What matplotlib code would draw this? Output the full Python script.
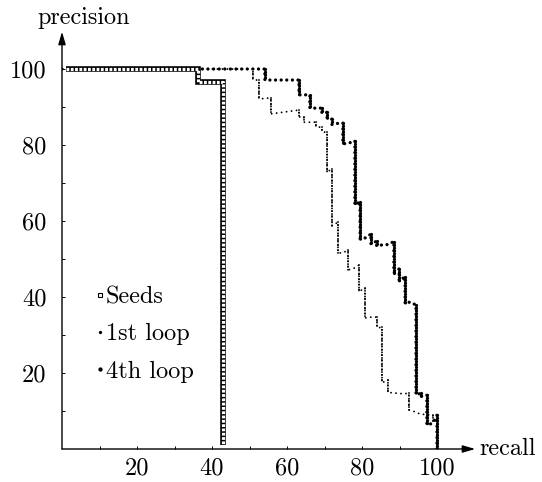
import matplotlib
matplotlib.use('Agg')
import matplotlib.pyplot as plt
from matplotlib.lines import Line2D
from matplotlib.collections import LineCollection

plt.rcParams['font.family'] = ['cmr10', 'DejaVu Serif']
plt.rcParams['axes.formatter.use_mathtext'] = True
plt.rcParams['lines.scale_dashes'] = False

# ---------------- data (recall %, precision %) ----------------
seeds_recall = [1.0, 36.2, 36.2, 42.8, 42.8]
seeds_precision = [100, 100, 96.7, 96.7, 1.0]

loop1_recall = [0, 50.9, 50.9, 52.5, 52.5, 55.7, 55.7, 63.2, 63.2, 64.5, 64.5,
                67.7, 67.7, 69.3, 69.3, 70.7, 70.7, 72.0, 72.0, 73.6, 73.6, 74.9,
                76.3, 76.3, 77.9, 79.2, 79.2, 80.8, 80.8, 82.4, 84.0, 84.0, 85.3,
                85.3, 86.9, 86.9, 88.3, 89.6, 91.0, 92.5, 92.5, 94.1, 95.5, 98.9,
                98.9, 100, 100]
loop1_precision = [100, 100, 97.1, 97.1, 92.1, 92.4, 88.2, 89.2, 87.4, 87.4, 86.0,
                   86.0, 84.7, 84.7, 83.4, 83.4, 72.9, 73.7, 58.7, 59.7, 51.6, 51.6,
                   52.4, 47.1, 47.6, 48.4, 41.4, 42.4, 34.5, 34.7, 34.7, 31.8, 32.1,
                   17.4, 18.2, 15.0, 14.7, 14.7, 14.5, 14.7, 10.3, 9.8, 9.2, 8.9,
                   7.1, 7.5, 0]

loop4_recall = [0, 54.1, 54.1, 63.2, 63.2, 66.1, 66.1, 69.3, 69.3, 70.7, 70.7,
                72.0, 72.0, 73.6, 74.9, 74.9, 76.5, 78.1, 78.1, 79.5, 79.5, 81.1,
                82.4, 82.4, 83.9, 83.9, 85.3, 86.9, 88.5, 88.5, 89.9, 89.9, 91.5,
                91.5, 92.8, 94.4, 94.4, 95.7, 95.7, 97.3, 97.3, 98.9, 100, 100]
loop4_precision = [100, 100, 97.1, 97.1, 93.2, 93.2, 89.7, 89.7, 88.4, 88.6, 87.0,
                   86.8, 85.4, 85.7, 85.8, 80.3, 80.5, 81.1, 64.2, 65.1, 55.3, 55.6,
                   56.6, 53.9, 54.7, 53.4, 53.7, 53.8, 54.6, 46.4, 47.4, 44.3, 45.3,
                   38.2, 38.7, 37.9, 14.2, 14.7, 13.9, 14.2, 6.3, 6.8, 8.9, 0]

series_labels = ['Seeds', '1st loop', '4th loop']
tick_values = [20, 40, 60, 80, 100]
tick_labels = ['20', '40', '60', '80', '100']
minor_tick_values = [10, 30, 50, 70, 90]

# ---------------- figure ----------------
W, H = 542, 482
PX = 0.72  # points per pixel at dpi 100
FS = 17.5
fig = plt.figure(figsize=(W / 100, H / 100), dpi=100)
ax = fig.add_axes([62 / W, (H - 449) / H, 412 / W, 416 / H])
ax.set_xlim(0, 412 / 3.75)
ax.set_ylim(0, 416 / 3.8)
for s in ax.spines.values():
    s.set_visible(False)
ax.set_facecolor('none')


def vertical_segments(xs, ys):
    segs = []
    for i in range(len(xs) - 1):
        if xs[i] == xs[i + 1]:
            segs.append([(xs[i], ys[i]), (xs[i + 1], ys[i + 1])])
    return segs


# 1st loop: small dots
ax.plot(loop1_recall, loop1_precision, color='k', lw=1.9 * PX,
        dash_capstyle='round', linestyle=(0, (0.01, 5.0 * PX)), zorder=3)
lc1 = LineCollection(vertical_segments(loop1_recall, loop1_precision),
                     colors='k', linewidths=1.9 * PX,
                     linestyles=[(0, (0.01, 2.8 * PX))], capstyle='round', zorder=3)
ax.add_collection(lc1)

# 4th loop: bigger dots
ax.plot(loop4_recall, loop4_precision, color='k', lw=3.3 * PX,
        dash_capstyle='round', linestyle=(0, (0.01, 5.6 * PX)), zorder=4)
lc4 = LineCollection(vertical_segments(loop4_recall, loop4_precision),
                     colors='k', linewidths=3.3 * PX,
                     linestyles=[(0, (0.01, 2.8 * PX))], capstyle='round', zorder=4)
ax.add_collection(lc4)

# Seeds: chain of open squares (black band with white dashes inside)
ax.plot(seeds_recall, seeds_precision, color='k', lw=5.6 * PX,
        solid_capstyle='butt', solid_joinstyle='miter', zorder=5)
ax.plot(seeds_recall, seeds_precision, color='white', lw=3.2 * PX,
        linestyle=(0, (2.8 * PX, 1.5 * PX)), dash_capstyle='butt', zorder=6)

# axes with arrows
arrow = dict(arrowstyle='-|>,head_length=0.75,head_width=0.22', color='k',
             lw=1.0, shrinkA=0, shrinkB=0, mutation_scale=10)
ax.annotate('', xy=(1.003, 0), xytext=(0, 0), xycoords='axes fraction',
            arrowprops=arrow, zorder=7)
ax.annotate('', xy=(0, 1.003), xytext=(0, 0), xycoords='axes fraction',
            arrowprops=arrow, zorder=7)

ax.set_xticks(tick_values)
ax.set_xticklabels(tick_labels)
ax.set_yticks(tick_values)
ax.set_yticklabels(tick_labels)
ax.set_xticks(minor_tick_values, minor=True)
ax.set_yticks(minor_tick_values, minor=True)
ax.tick_params(which='both', direction='in', length=2.2, width=0.7, color='k')
ax.tick_params(axis='x', pad=6, labelsize=FS)
ax.tick_params(axis='y', pad=11, labelsize=FS)

fig.text(479 / W, 1 - 449 / H, 'recall', ha='left', va='center', fontsize=FS)
fig.text(84 / W, 1 - 18 / H, 'precision', ha='center', va='center', fontsize=FS)

# legend
handles = [
    Line2D([], [], ls='none', marker='s', ms=4.4 * PX, mfc='white', mec='k', mew=0.8),
    Line2D([], [], ls='none', marker='o', ms=1.9 * PX, mfc='k', mec='k'),
    Line2D([], [], ls='none', marker='o', ms=2.9 * PX, mfc='k', mec='k'),
]
ax.legend(handles, series_labels, loc='upper left', frameon=False,
          bbox_to_anchor=(97 / W, 1 - 286 / H), bbox_transform=fig.transFigure,
          fontsize=FS, handlelength=0.25, handletextpad=0.12, labelspacing=0.62,
          borderpad=0, borderaxespad=0)

fig.savefig('out.png', dpi=100)
